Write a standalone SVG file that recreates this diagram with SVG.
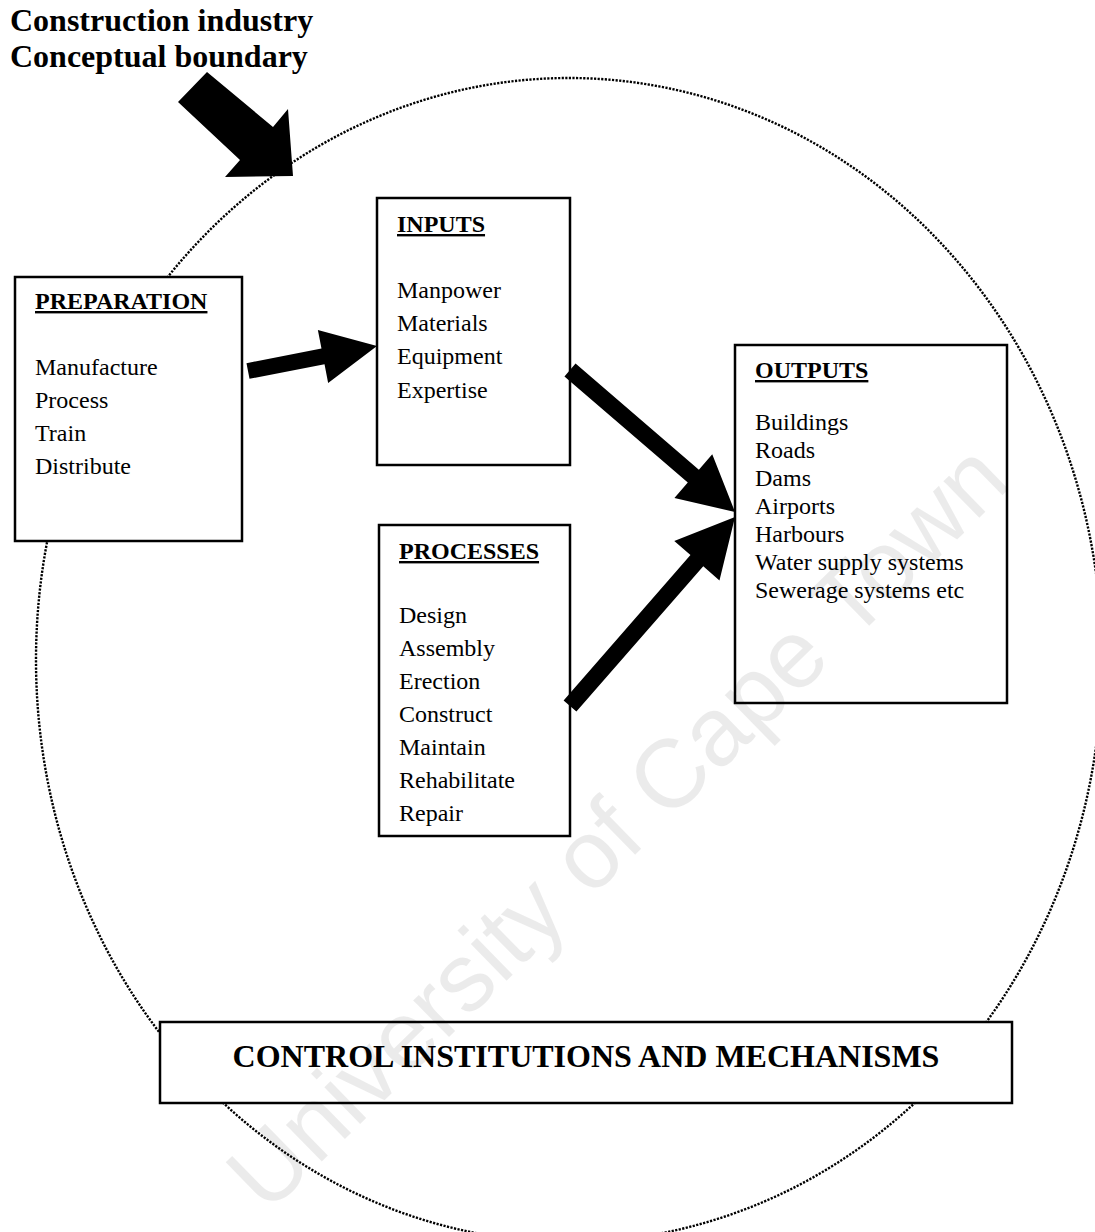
<svg xmlns="http://www.w3.org/2000/svg" width="1095" height="1232" viewBox="0 0 1095 1232">
  <style>
    .box { fill: #fff; stroke: #000; stroke-width: 2.5; }
    .head { font-family: "Liberation Serif", "Times New Roman", serif; font-size: 24px; font-weight: bold; fill: #000; text-decoration: underline; }
    .item { font-family: "Liberation Serif", "Times New Roman", serif; font-size: 24px; fill: #000; }
    .big { font-family: "Liberation Serif", "Times New Roman", serif; font-size: 32px; font-weight: bold; fill: #000; }
    .arrow { fill: #000; }
    .boundary { fill: none; stroke: #000; stroke-width: 2.4; stroke-dasharray: 2.2 1.4; }
    .mark { font-family: "Liberation Sans", Arial, sans-serif; font-size: 97px; fill: #000; fill-opacity: 0.08; }
  </style>

  <rect width="1095" height="1232" fill="#fff"/>

  <!-- conceptual boundary of the industry -->
  <g id="boundary">
    <ellipse class="boundary" cx="569" cy="660" rx="533" ry="582"/>
  </g>

  <!-- title and pointer to the boundary -->
  <g id="title">
    <text class="big" x="10" y="31">Construction industry</text>
    <text class="big" x="10" y="67">Conceptual boundary</text>
    <polygon class="arrow" points="178,102 207,72 273,127 288,109 293,176 225,177 240,160"/>
  </g>

  <g id="preparation">
    <rect class="box" x="15" y="277" width="227" height="264"/>
    <text class="head" x="35" y="309">PREPARATION</text>
    <text class="item" x="35" y="375">Manufacture</text>
    <text class="item" x="35" y="408">Process</text>
    <text class="item" x="35" y="441">Train</text>
    <text class="item" x="35" y="474">Distribute</text>
  </g>

  <g id="inputs">
    <rect class="box" x="377" y="198" width="193" height="267"/>
    <text class="head" x="397" y="232">INPUTS</text>
    <text class="item" x="397" y="298">Manpower</text>
    <text class="item" x="397" y="331">Materials</text>
    <text class="item" x="397" y="364">Equipment</text>
    <text class="item" x="397" y="398">Expertise</text>
  </g>

  <g id="processes">
    <rect class="box" x="379" y="525" width="191" height="311"/>
    <text class="head" x="399" y="559">PROCESSES</text>
    <text class="item" x="399" y="623">Design</text>
    <text class="item" x="399" y="656">Assembly</text>
    <text class="item" x="399" y="689">Erection</text>
    <text class="item" x="399" y="722">Construct</text>
    <text class="item" x="399" y="755">Maintain</text>
    <text class="item" x="399" y="788">Rehabilitate</text>
    <text class="item" x="399" y="821">Repair</text>
  </g>

  <g id="outputs">
    <rect class="box" x="735" y="345" width="272" height="358"/>
    <text class="head" x="755" y="378">OUTPUTS</text>
    <text class="item" x="755" y="430">Buildings</text>
    <text class="item" x="755" y="458">Roads</text>
    <text class="item" x="755" y="486">Dams</text>
    <text class="item" x="755" y="514">Airports</text>
    <text class="item" x="755" y="542">Harbours</text>
    <text class="item" x="755" y="570">Water supply systems</text>
    <text class="item" x="755" y="598">Sewerage systems etc</text>
  </g>

  <g id="control">
    <rect class="box" x="160" y="1022" width="852" height="81"/>
    <text class="big" x="586" y="1067" text-anchor="middle">CONTROL INSTITUTIONS AND MECHANISMS</text>
  </g>

  <!-- flow arrows between the stages -->
  <g id="connectors">
    <polygon class="arrow" transform="translate(248,371) rotate(-10.97)" points="0,-8 76.4,-8 76.4,-27 131.4,0 76.4,27 76.4,8 0,8"/>
    <polygon class="arrow" transform="translate(570,370) rotate(40.71)" points="0,-8.5 162.7,-8.5 162.7,-29 217.7,0 162.7,29 162.7,8.5 0,8.5"/>
    <polygon class="arrow" transform="translate(570,706) rotate(-48.88)" points="0,-8.5 192.9,-8.5 192.9,-30 250.9,0 192.9,30 192.9,8.5 0,8.5"/>
  </g>

  <!-- faint diagonal watermark -->
  <text class="mark" x="640" y="850" text-anchor="middle" transform="rotate(-44.4 640 850)">University of Cape Town</text>
</svg>
